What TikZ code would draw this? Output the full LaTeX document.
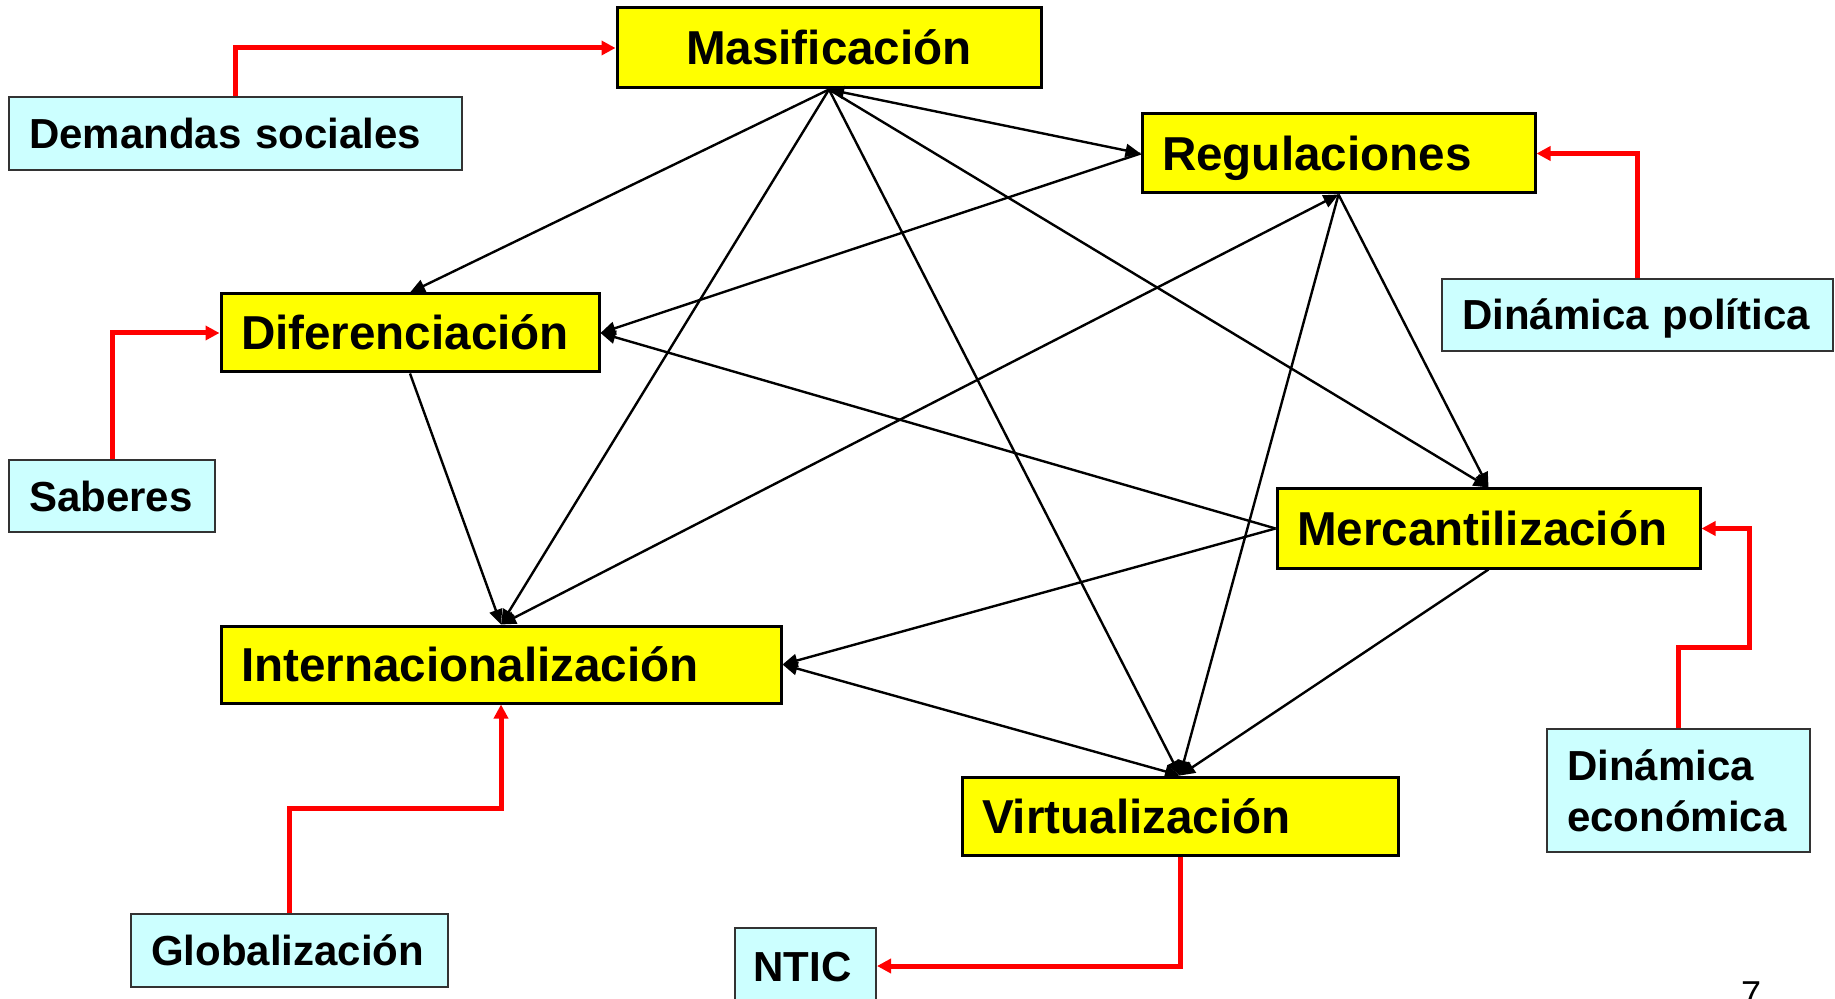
\documentclass[tikz,border=0pt]{standalone}
\usepackage{fontspec}
\setmainfont{Liberation Sans}
\usetikzlibrary{arrows.meta,calc}
\definecolor{yelbox}{RGB}{255,255,0}
\definecolor{cyanbox}{RGB}{204,255,255}
\definecolor{redline}{RGB}{255,0,0}
\begin{document}
\begin{tikzpicture}[x=0.5pt,y=-0.5pt,
  ybox/.style={draw=black,line width=1.5pt,fill=yelbox,inner xsep=10pt,inner ysep=0pt,align=left,text height=22pt,text depth=5pt,font=\bfseries\fontsize{23.8}{28}\selectfont},
  bbox/.style={draw=black!80,line width=1pt,fill=cyanbox,inner xsep=10pt,inner ysep=0pt,align=left,font=\bfseries\fontsize{21}{25.5}\selectfont},
  bline/.style={text height=20pt,text depth=5pt},
  conn/.style={line width=1.2pt,-{Triangle[length=7.5pt,width=6.5pt]}},
  connb/.style={line width=1.2pt,{Triangle[length=7.5pt,width=6.5pt]}-{Triangle[length=7.5pt,width=6.5pt]}},
  rconn/.style={draw=redline,line width=2.5pt,-{Triangle[length=7pt,width=7pt]}}]
\useasboundingbox (0,0) rectangle (1835,999);
\clip (0,0) rectangle (1835,999);

% yellow boxes
\node[ybox,align=center,minimum width=212pt,minimum height=40pt,text width=192pt] (mas) at (829,48) {Masificación};
\node[ybox,minimum width=196.5pt,minimum height=39.5pt,text width=176.5pt] (reg) at (1338.5,153.5) {Regulaciones};
\node[ybox,minimum width=189pt,minimum height=39pt,text width=169pt] (dif) at (410,333) {Diferenciación};
\node[ybox,minimum width=211.5pt,minimum height=39.5pt,text width=191.5pt] (mer) at (1488.5,528.5) {Mercantilización};
\node[ybox,minimum width=280pt,minimum height=38.5pt,text width=260pt] (int) at (501,664.5) {Internacionalización};
\node[ybox,minimum width=218pt,minimum height=39pt,text width=198pt] (vir) at (1180,816) {Virtualización};

% blue boxes
\node[bbox,bline,minimum width=226.5pt,minimum height=36.5pt,text width=206.5pt] (dem) at (235.5,133.5) {Demandas sociales};
\node[bbox,bline,minimum width=195.5pt,minimum height=36pt,text width=175.5pt] (dpol) at (1637.5,315) {Dinámica política};
\node[bbox,bline,minimum width=103pt,minimum height=36pt,text width=83pt] (sab) at (112,496) {Saberes};
\node[bbox,minimum width=131.5pt,minimum height=61.5pt,text width=111.5pt] (deco) at (1678.5,790.5) {Dinámica\\económica};
\node[bbox,bline,minimum width=158.5pt,minimum height=36.5pt,text width=138.5pt] (glo) at (289.5,950.5) {Globalización};
\node[bbox,bline,minimum width=70.5pt,minimum height=38pt,text width=52pt,inner xsep=9.25pt] (ntic) at (805.5,966) {NTIC};

% page number
\node[font=\fontsize{18}{20}\selectfont,anchor=base,inner sep=0pt] (pnum) at (1751,1006) {7};

% black connectors
\draw[conn] (mas.south) -- (dif.north);
\draw[conn] (mas.south) -- (int.north);
\draw[conn] (mas.south) -- (vir.north);
\draw[conn] (mas.south) -- (mer.north);
\draw[connb] (mas.south) -- (reg.west);
\draw[conn] (reg.west) -- (dif.east);
\draw[connb] (int.north) -- (reg.south);
\draw[conn] (reg.south) -- (vir.north);
\draw[conn] (reg.south) -- (mer.north);
\draw[conn] (dif.south) -- (int.north);
\draw[conn] (mer.west) -- (dif.east);
\draw[conn] (mer.west) -- (int.east);
\draw[conn] (mer.south) -- (vir.north);
\draw[connb] (int.east) -- (vir.north);

% red connectors
\draw[rconn] (dem.north) |- (mas.west);
\draw[rconn] (dpol.north) |- (reg.east);
\draw[rconn] (sab.north) |- (dif.west);
\draw[rconn] (deco.north) -- ++(0,-81) -| ($(mer.east)+(48,0)$) -- (mer.east);
\draw[rconn] (glo.north) -- ++(0,-105) -| (int.south);
\draw[rconn] (vir.south) |- (ntic.east);
\end{tikzpicture}
\end{document}
